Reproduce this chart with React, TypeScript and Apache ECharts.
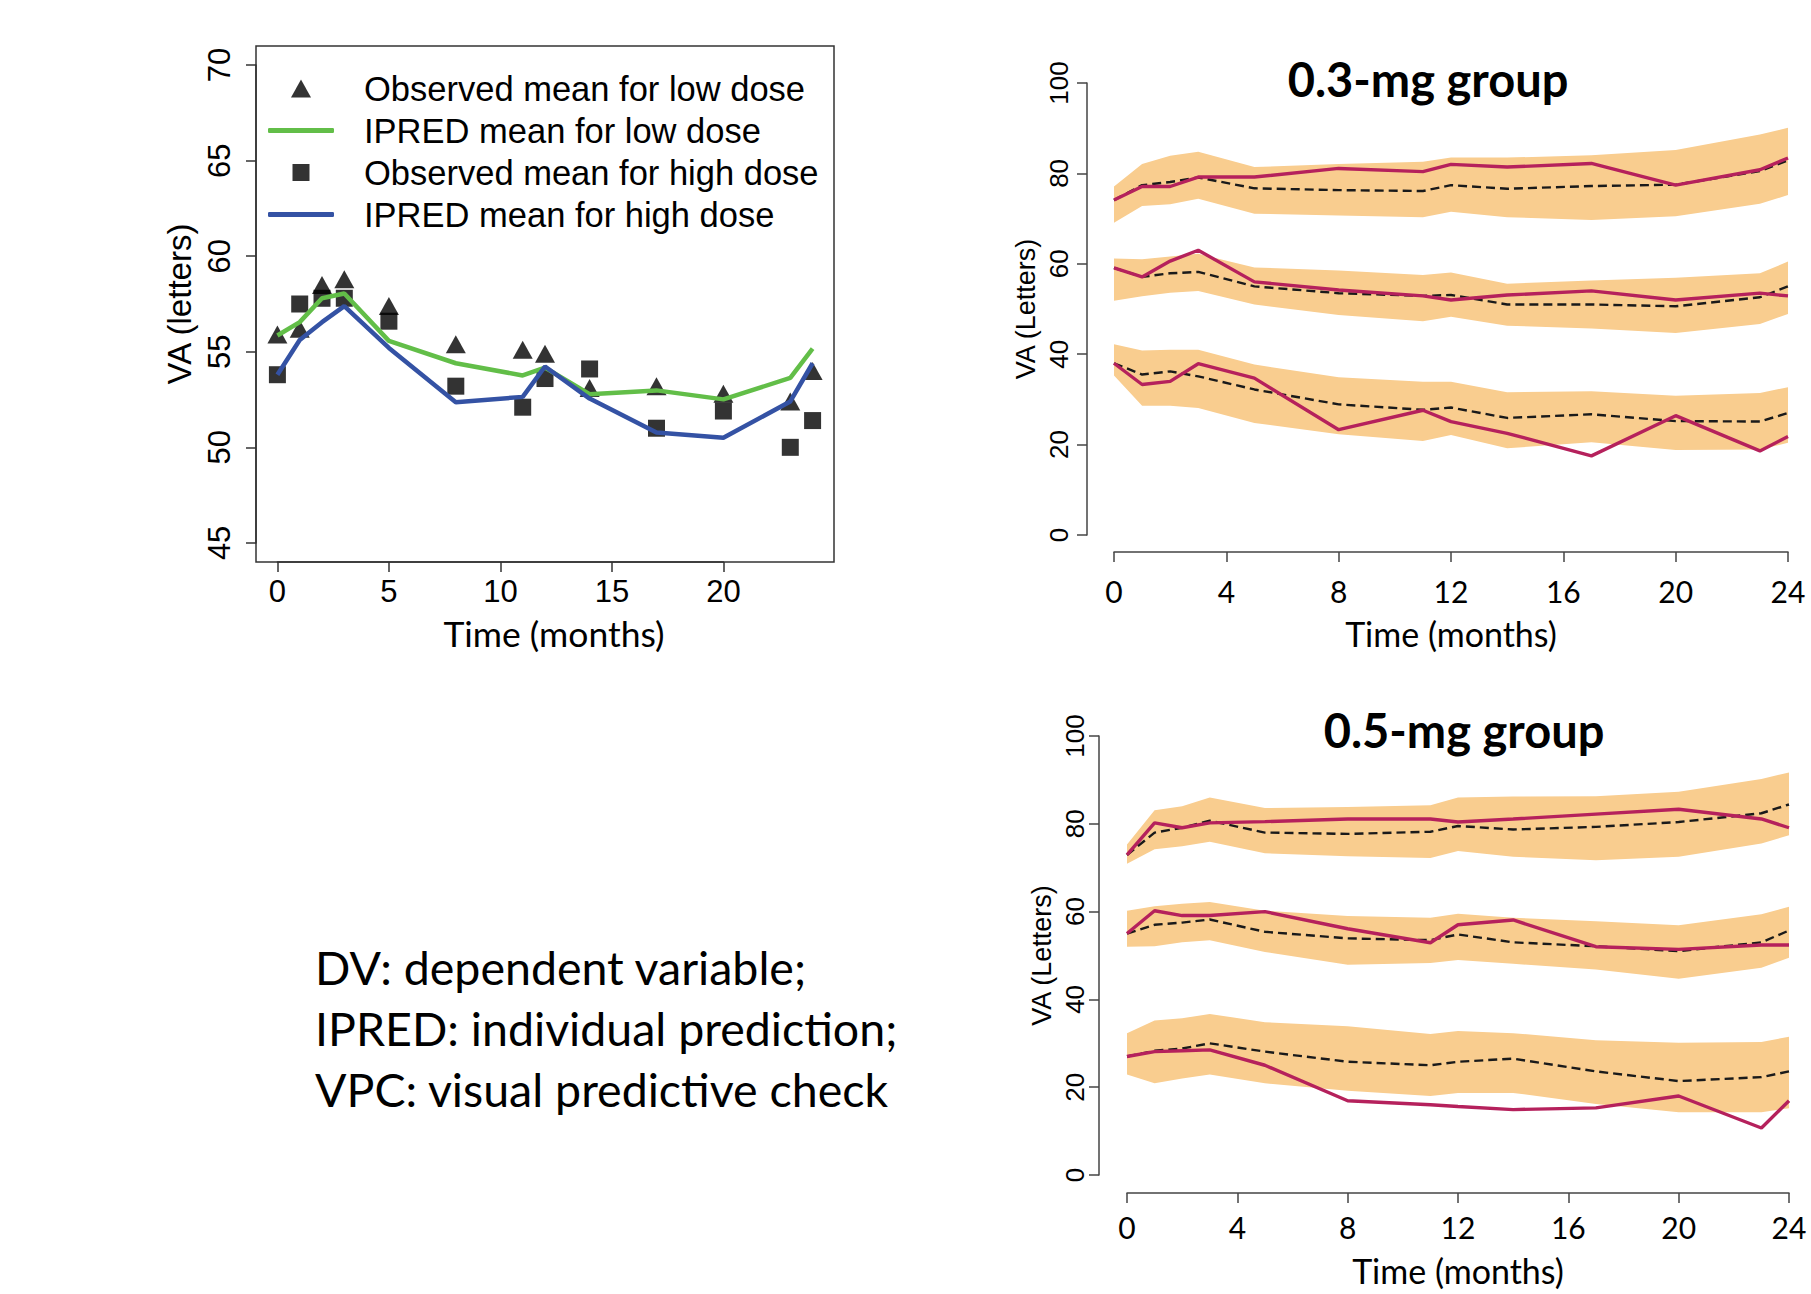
import React, { useEffect, useRef } from "react";
import * as echarts from "echarts";

// ---------- data ----------
const months = [0, 1, 2, 3, 5, 8, 11, 12, 14, 17, 20, 23, 24];

// left panel: means
const obsLowDose = [55.9, 56.2, 58.5, 58.8, 57.4, 55.4, 55.1, 54.9, 53.1, 53.2, 52.8, 52.4, 54.0];
const obsHighDose = [53.8, 57.5, 57.8, 57.8, 56.6, 53.2, 52.1, 53.6, 54.1, 51.0, 51.9, 50.0, 51.4];
const ipredLowDose = [55.85, 56.55, 57.8, 58.05, 55.57, 54.4, 53.76, 54.17, 52.78, 52.98, 52.51, 53.63, 55.16];
const ipredHighDose = [53.8, 55.62, 56.55, 57.39, 55.2, 52.36, 52.64, 54.23, 52.55, 50.78, 50.5, 52.4, 54.4];

// 0.3-mg group VPC
const obs03Hi = [74.1, 77.1, 77.1, 79.2, 79.2, 81.1, 80.4, 82.0, 81.4, 82.2, 77.4, 80.8, 83.4];
const med03Hi = [74.1, 77.4, 78.1, 79.1, 76.7, 76.3, 76.1, 77.4, 76.6, 77.2, 77.5, 80.5, 82.9];
const up03Hi = [77.1, 82.1, 83.9, 84.8, 81.4, 82.1, 82.6, 83.5, 83.5, 84.0, 85.2, 88.6, 90.1];
const lo03Hi = [69.1, 72.8, 73.2, 74.4, 71.1, 70.7, 70.3, 71.5, 70.3, 69.7, 70.5, 73.3, 75.2];

const obs03Mid = [59.1, 57.1, 60.6, 63.0, 56.0, 54.2, 52.9, 52.0, 53.1, 54.0, 52.0, 53.5, 52.9];
const med03Mid = [59.1, 57.1, 57.9, 58.2, 55.0, 53.5, 52.9, 53.1, 51.0, 51.0, 50.6, 52.6, 55.0];
const up03Mid = [61.2, 61.0, 61.6, 62.2, 59.2, 58.5, 57.5, 58.1, 55.6, 56.3, 56.9, 57.9, 60.5];
const lo03Mid = [51.8, 52.8, 53.6, 54.0, 51.0, 48.7, 47.3, 48.3, 46.3, 45.7, 44.7, 46.7, 48.9];

const obs03Lo = [38.0, 33.3, 34.0, 37.9, 34.7, 23.3, 27.6, 25.1, 22.5, 17.5, 26.4, 18.6, 21.8];
const med03Lo = [38.0, 35.5, 36.2, 35.1, 32.2, 28.9, 27.7, 28.2, 25.9, 26.7, 25.2, 25.1, 27.0];
const up03Lo = [42.2, 40.8, 41.0, 41.0, 37.7, 34.9, 33.9, 33.9, 31.6, 31.8, 30.8, 31.4, 32.7];
const lo03Lo = [35.3, 28.6, 28.6, 28.1, 24.8, 22.3, 20.8, 22.1, 19.2, 20.5, 18.8, 18.9, 20.4];

// 0.5-mg group VPC
const obs05Hi = [72.9, 80.2, 79.1, 80.2, 80.5, 81.1, 81.1, 80.4, 81.1, 82.2, 83.3, 81.1, 79.1];
const med05Hi = [72.9, 78.0, 79.1, 80.7, 78.0, 77.7, 78.2, 79.5, 78.7, 79.3, 80.4, 82.4, 84.4];
const up05Hi = [75.3, 83.1, 84.0, 86.0, 83.6, 83.8, 84.2, 86.0, 86.2, 86.3, 87.3, 90.2, 91.7];
const lo05Hi = [70.9, 74.2, 74.9, 75.9, 73.3, 72.6, 72.2, 73.8, 72.5, 71.7, 72.5, 75.5, 77.4];

const obs05Mid = [55.0, 60.2, 59.1, 59.1, 60.0, 56.1, 52.9, 57.0, 58.1, 52.0, 51.4, 52.4, 52.4];
const med05Mid = [55.0, 57.0, 57.5, 58.2, 55.4, 53.9, 53.5, 54.8, 53.0, 52.1, 51.0, 53.0, 55.7];
const up05Mid = [60.2, 61.2, 61.8, 62.2, 60.2, 59.0, 58.6, 59.5, 58.6, 57.8, 56.9, 59.4, 61.1];
const lo05Mid = [52.0, 52.1, 53.0, 53.5, 50.8, 47.9, 48.3, 49.0, 48.1, 46.8, 44.7, 47.2, 49.5];

const obs05Lo = [27.0, 28.1, 28.3, 28.5, 25.0, 16.9, 16.0, 15.6, 14.9, 15.3, 18.0, 10.7, 16.9];
const med05Lo = [27.0, 28.3, 28.8, 30.0, 28.1, 25.8, 25.0, 25.8, 26.5, 23.6, 21.4, 22.3, 23.6];
const up05Lo = [32.3, 35.2, 35.7, 36.7, 34.8, 33.9, 32.1, 32.8, 32.3, 30.7, 30.1, 30.3, 31.5];
const lo05Lo = [22.9, 20.9, 22.0, 22.9, 20.9, 19.2, 18.0, 18.7, 18.7, 16.2, 14.3, 14.3, 15.2];

const legendNames = [
  "Observed mean for low dose",
  "IPRED mean for low dose",
  "Observed mean for high dose",
  "IPRED mean for high dose",
];
const panelTitles = ["0.3-mg group", "0.5-mg group"];
const noteLines = ["DV: dependent variable;", "IPRED: individual prediction;", "VPC: visual predictive check"];

// ---------- styles ----------
const R_FONT = '"Liberation Sans", Arial, sans-serif';
const PPT_FONT = 'Lato, "Open Sans", sans-serif';
const BAND = "#F9CD8F";
const RED = "#B5215C";
const GREEN = "#62BE48";
const BLUE = "#3452A4";
const AXIS = "#444";

const pair = (ys: number[]) => months.map((m, i) => [m, ys[i]]);

function vpcBand(gi: number, lo: number[], up: number[]) {
  return {
    type: "custom",
    xAxisIndex: gi,
    yAxisIndex: gi,
    silent: true,
    z: 1,
    data: months.map((m, i) => [m, lo[i], up[i]]),
    encode: { x: 0, y: [1, 2] },
    renderItem: (params: any, api: any) => {
      if (params.dataIndex !== 0) return null;
      const topPts = months.map((m, i) => api.coord([m, up[i]]));
      const botPts = months.map((m, i) => api.coord([m, lo[i]])).reverse();
      return {
        type: "polygon",
        shape: { points: topPts.concat(botPts) },
        style: { fill: BAND, stroke: "none" },
      };
    },
  };
}
function vpcLines(gi: number, med: number[], obs: number[]) {
  return [
    {
      type: "line", xAxisIndex: gi, yAxisIndex: gi, symbol: "none", silent: true, z: 3,
      data: pair(med), lineStyle: { color: "#1a1a1a", width: 2.4, type: [9, 5] },
    },
    {
      type: "line", xAxisIndex: gi, yAxisIndex: gi, symbol: "none", silent: true, z: 4,
      data: pair(obs), lineStyle: { color: RED, width: 3.4 },
    },
  ];
}

const rightX = (gi: number, offset: number, margin: number, nameGap: number) => ({
  type: "value", gridIndex: gi, min: 0, max: 24, interval: 4, offset,
  name: "Time (months)", nameLocation: "middle", nameGap,
  nameTextStyle: { fontFamily: PPT_FONT, fontSize: 34, color: "#000" },
  axisLine: { show: true, onZero: false, lineStyle: { color: AXIS, width: 1.5 } },
  axisTick: { show: true, length: 10, lineStyle: { color: AXIS, width: 1.5 } },
  axisLabel: { fontFamily: PPT_FONT, fontSize: 30, color: "#000", margin },
  splitLine: { show: false },
});
const rightY = (gi: number, offset: number, margin: number, nameGap: number) => ({
  type: "value", gridIndex: gi, min: 0, max: 100, interval: 20, offset,
  name: "VA (Letters)", nameLocation: "middle", nameGap,
  nameTextStyle: { fontFamily: R_FONT, fontSize: 27, color: "#000" },
  axisLine: { show: true, onZero: false, lineStyle: { color: AXIS, width: 1.5 } },
  axisTick: { show: true, length: 10, lineStyle: { color: AXIS, width: 1.5 } },
  axisLabel: { fontFamily: R_FONT, fontSize: 26, color: "#000", rotate: 90, margin },
  splitLine: { show: false },
});

const legendRows = [88, 130, 172, 214];

function legendFor(i: number) {
  const isLine = i === 1 || i === 3;
  const iconW = isLine ? 66 : i === 0 ? 20 : 17;
  const iconH = isLine ? 5 : i === 0 ? 18 : 17;
  const centerX = 301;
  const left = isLine ? 268 : centerX - iconW / 2;
  const textX = 364;
  return {
    data: [legendNames[i]],
    left,
    top: legendRows[i] - 17,
    padding: 0,
    itemWidth: iconW,
    itemHeight: iconH,
    icon: isLine ? "roundRect" : undefined,
    selectedMode: false,
    textStyle: {
      fontFamily: R_FONT, fontSize: 34.5, color: "#000",
      padding: [0, 0, 0, textX - (left + iconW + 5)],
    },
  };
}

// left panel geometry: data box spans x -0.96..24.96, y 44..71 (R's 4% extension)
const LB = { left: 256, top: 46, width: 578, height: 516 };
const LX = LB.width / 25.92;
const LY = LB.height / 27;

export default function App() {
  const ref = useRef<HTMLDivElement>(null);
  useEffect(() => {
    if (!ref.current) return;
    const chart = echarts.init(ref.current, null, { renderer: "svg" });
    const tickGrid = {
      left: LB.left + 0.96 * LX,
      top: LB.top + 1 * LY,
      width: 20 * LX,
      height: 25 * LY,
    };
    const option: any = {
      animation: false,
      backgroundColor: "#fff",
      title: [
        {
          text: panelTitles[0], left: 1423, top: 50, textAlign: "center",
          textStyle: { fontFamily: PPT_FONT, fontWeight: "bold", fontSize: 47, color: "#000" },
        },
        {
          text: panelTitles[1], left: 1459, top: 701, textAlign: "center",
          textStyle: { fontFamily: PPT_FONT, fontWeight: "bold", fontSize: 47, color: "#000" },
        },
      ],
      legend: [0, 1, 2, 3].map(legendFor),
      grid: [
        { ...LB, show: true, borderColor: "#333", borderWidth: 1.5, backgroundColor: "transparent" },
        { left: 1114, top: 83, width: 674, height: 452 },
        { left: 1127, top: 736, width: 662, height: 439 },
        tickGrid,
      ],
      xAxis: [
        {
          type: "value", gridIndex: 0, min: -0.96, max: 24.96,
          name: "Time (months)", nameLocation: "middle", nameGap: 53,
          nameTextStyle: { fontFamily: PPT_FONT, fontSize: 35.5, color: "#000", padding: [0, 0, 0, 18] },
          axisLine: { show: false },
          axisTick: { show: false },
          axisLabel: { show: false },
          splitLine: { show: false },
        },
        rightX(1, 17, 24, 64),
        rightX(2, 18, 19, 60),
        {
          type: "value", gridIndex: 3, min: 0, max: 20, interval: 5,
          offset: LB.top + LB.height - (tickGrid.top + tickGrid.height),
          axisLine: { show: true, onZero: false, lineStyle: { color: "#333", width: 1.5 } },
          axisTick: { show: true, length: 10, lineStyle: { color: "#333", width: 1.5 } },
          axisLabel: { fontFamily: R_FONT, fontSize: 31, color: "#000", margin: 14 },
          splitLine: { show: false },
        },
      ],
      yAxis: [
        {
          type: "value", gridIndex: 0, min: 44, max: 71,
          name: "VA (letters)", nameLocation: "middle", nameGap: 60,
          nameTextStyle: { fontFamily: R_FONT, fontSize: 33, color: "#000" },
          axisLine: { show: false },
          axisTick: { show: false },
          axisLabel: { show: false },
          splitLine: { show: false },
        },
        rightY(1, 27, 15, 48),
        rightY(2, 28, 11, 44),
        {
          type: "value", gridIndex: 3, min: 45, max: 70, interval: 5,
          offset: tickGrid.left - LB.left,
          axisLine: { show: true, onZero: false, lineStyle: { color: "#333", width: 1.5 } },
          axisTick: { show: true, length: 10, lineStyle: { color: "#333", width: 1.5 } },
          axisLabel: { fontFamily: R_FONT, fontSize: 31, color: "#000", rotate: 90, margin: 21 },
          splitLine: { show: false },
        },
      ],
      graphic: noteLines.map((t, i) => ({
        type: "text", left: 315, top: 971 + i * 61 - 28,
        style: { text: t, fontFamily: PPT_FONT, fontSize: 46.5, fill: "#000" },
      })),
      series: [
        // left panel
        {
          name: legendNames[0], type: "scatter", xAxisIndex: 0, yAxisIndex: 0,
          symbol: "triangle", symbolSize: [20, 18], itemStyle: { color: "#000" }, data: pair(obsLowDose),
        },
        {
          name: legendNames[2], type: "scatter", xAxisIndex: 0, yAxisIndex: 0,
          symbol: "rect", symbolSize: 17, itemStyle: { color: "#000" }, data: pair(obsHighDose),
        },
        {
          name: legendNames[1], type: "line", xAxisIndex: 0, yAxisIndex: 0, symbol: "none",
          itemStyle: { color: GREEN }, lineStyle: { color: GREEN, width: 4.5 }, data: pair(ipredLowDose), z: 3,
        },
        {
          name: legendNames[3], type: "line", xAxisIndex: 0, yAxisIndex: 0, symbol: "none",
          itemStyle: { color: BLUE }, lineStyle: { color: BLUE, width: 4.5 }, data: pair(ipredHighDose), z: 3,
        },
        // 0.3-mg
        vpcBand(1, lo03Hi, up03Hi),
        vpcBand(1, lo03Mid, up03Mid),
        vpcBand(1, lo03Lo, up03Lo),
        ...vpcLines(1, med03Hi, obs03Hi),
        ...vpcLines(1, med03Mid, obs03Mid),
        ...vpcLines(1, med03Lo, obs03Lo),
        // 0.5-mg
        vpcBand(2, lo05Hi, up05Hi),
        vpcBand(2, lo05Mid, up05Mid),
        vpcBand(2, lo05Lo, up05Lo),
        ...vpcLines(2, med05Hi, obs05Hi),
        ...vpcLines(2, med05Mid, obs05Mid),
        ...vpcLines(2, med05Lo, obs05Lo),
      ],
    };
    chart.setOption(option);
    return () => chart.dispose();
  }, []);
  return (
    <div
      ref={ref}
      style={{ position: "absolute", left: 0, top: 0, width: 1811, height: 1294, background: "#fff" }}
    />
  );
}
